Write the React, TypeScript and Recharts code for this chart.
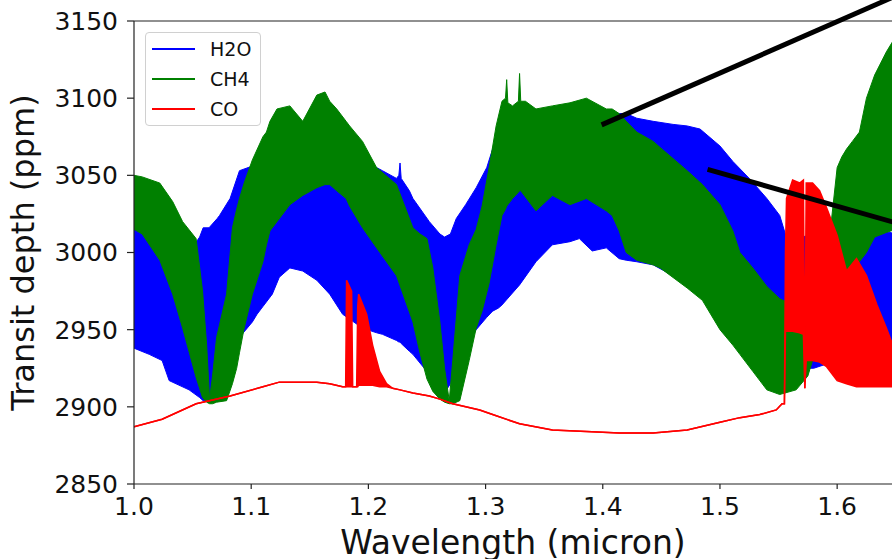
import { ComposedChart, Area, XAxis, YAxis, ReferenceLine } from 'recharts';

// H2O band: wavelength (micron), lower and upper edge of the spectrum (ppm)
const h2oWl = [
  1.0, 1.013, 1.024, 1.03, 1.047, 1.056, 1.059, 1.064, 1.071, 1.073, 1.082, 1.09, 1.101, 1.105,
  1.109, 1.11, 1.111, 1.118, 1.124, 1.133, 1.144, 1.156, 1.167, 1.178, 1.195, 1.207, 1.212,
  1.224, 1.226, 1.227, 1.228, 1.235, 1.238, 1.252, 1.261, 1.265, 1.27, 1.275, 1.283, 1.292,
  1.301, 1.306, 1.311, 1.314, 1.329, 1.343, 1.357, 1.372, 1.38, 1.391, 1.403, 1.414, 1.42,
  1.429, 1.443, 1.46, 1.472, 1.483, 1.5, 1.511, 1.525, 1.54, 1.551, 1.557, 1.57, 1.58, 1.6,
  1.62, 1.64, 1.66,
];
const h2oLow = [
  2938, 2934, 2930, 2917, 2911, 2906, 2904, 2905, 2920, 2930, 2940, 2945, 2955, 2960,
  2964, 2965, 2966, 2973, 2984, 2990, 2988, 2982, 2973, 2960, 2951, 2948, 2947,
  2943, 2942, 2942, 2941, 2936, 2934, 2921, 2912, 2909, 2915, 2930, 2940, 2950,
  2958, 2962, 2964, 2966, 2979, 2994, 3005, 3007, 3009, 3001, 3003, 2996, 2995,
  2994, 2992, 2985, 2978, 2972, 2962, 2955, 2945, 2935, 2928, 2925, 2925, 2925, 2930,
  2935, 2940, 2945,
];
const h2oHigh = [
  3022, 3018, 3012, 3005, 3000, 3010, 3016, 3016, 3022, 3024, 3035, 3053, 3056, 3060,
  3062, 3072, 3063, 3068, 3065, 3062, 3060, 3060, 3058, 3058, 3056, 3055, 3053,
  3048, 3050, 3058, 3048, 3040, 3035, 3020, 3012, 3010, 3012, 3022, 3031, 3042,
  3055, 3067, 3078, 3080, 3080, 3082, 3082, 3085, 3085, 3087, 3088, 3090, 3090,
  3087, 3085, 3083, 3082, 3080, 3069, 3059, 3048, 3035, 3024, 3009, 3010, 3012, 3015,
  3018, 3014, 3010,
];

// CH4 band
const ch4Wl = [
  1.0, 1.007, 1.022, 1.033, 1.0415, 1.053, 1.0585, 1.062, 1.0645, 1.067, 1.0705, 1.079, 1.084,
  1.0876, 1.09, 1.094, 1.101, 1.11, 1.113, 1.116, 1.122, 1.133, 1.144, 1.156, 1.163, 1.167,
  1.173, 1.181, 1.184, 1.195, 1.207, 1.224, 1.238, 1.244, 1.25, 1.255, 1.261, 1.265, 1.269,
  1.272, 1.278, 1.286, 1.292, 1.297, 1.303, 1.309, 1.314, 1.317, 1.318, 1.319, 1.323, 1.328,
  1.329, 1.33, 1.334, 1.343, 1.357, 1.372, 1.386, 1.403, 1.408, 1.414, 1.42, 1.429, 1.443,
  1.449, 1.472, 1.485, 1.5, 1.511, 1.517, 1.528, 1.54, 1.551, 1.565, 1.575, 1.585, 1.595,
  1.6, 1.604, 1.608, 1.613, 1.619, 1.625, 1.632, 1.642, 1.65, 1.66,
];
const ch4Low = [
  3015, 3012, 2995, 2973, 2951, 2919, 2906, 2903, 2902, 2902, 2903, 2904, 2915,
  2925, 2935, 2951, 2973, 2994, 3005, 3014, 3020, 3031, 3037, 3042, 3044, 3044,
  3040, 3035, 3030, 3016, 3003, 2985, 2955, 2935, 2918, 2910, 2905, 2903, 2902,
  2902, 2904, 2930, 2951, 2962, 2980, 3005, 3024, 3028, 3030, 3031, 3035, 3039,
  3040, 3040, 3036, 3027, 3037, 3031, 3035, 3027, 3024, 3014, 3000, 2995, 2992,
  2990, 2977, 2969, 2950, 2940, 2934, 2923, 2911, 2908, 2911, 2920, 2945, 2970,
  2980, 2983, 2985, 2990, 2994, 3000, 3010, 3013, 3015, 3018,
];
const ch4High = [
  3050, 3049, 3045, 3033, 3020, 3009, 2975, 2940, 2905, 2920, 2945, 2973, 3016,
  3028, 3035, 3045, 3060, 3075, 3078, 3085, 3093, 3095, 3085, 3102, 3104, 3098,
  3093, 3085, 3082, 3072, 3055, 3044, 3016, 3012, 3009, 2990, 2955, 2925, 2904,
  2930, 2985, 3005, 3015, 3030, 3055, 3082, 3098, 3100, 3112, 3097, 3095, 3098,
  3116, 3098, 3098, 3093, 3095, 3097, 3100, 3093, 3093, 3090, 3085, 3078, 3072,
  3068, 3053, 3044, 3031, 3014, 3000, 2990, 2978, 2970, 2965, 2975, 2995, 3020,
  3055, 3062, 3067, 3072, 3078, 3100, 3115, 3130, 3140, 3145,
];

// CO: continuum line plus its two absorption features
const coWl = [
  1.0, 1.024, 1.053, 1.082, 1.11, 1.124, 1.141, 1.156, 1.167, 1.178, 1.1806, 1.1814, 1.1857,
  1.1866, 1.1887, 1.19, 1.1909, 1.1917, 1.1985, 1.2036, 1.2096, 1.2155, 1.2207, 1.227, 1.238,
  1.252, 1.261, 1.272, 1.295, 1.306, 1.329, 1.357, 1.386, 1.414, 1.443, 1.472, 1.5, 1.517,
  1.534, 1.548, 1.553, 1.555, 1.5559, 1.5568, 1.562, 1.568, 1.5712, 1.5724, 1.5736, 1.579,
  1.585, 1.591, 1.6, 1.608, 1.6165, 1.625, 1.634, 1.642, 1.646, 1.66,
];
const coLow = [
  2887, 2892, 2902, 2907, 2913, 2916, 2916, 2916, 2915, 2913, 2913, 2913, 2913,
  2913, 2913, 2913, 2913, 2914, 2914, 2914, 2913, 2913, 2912, 2911, 2909,
  2907, 2905, 2902, 2898, 2895, 2889, 2885, 2884, 2883, 2883, 2885, 2890, 2893,
  2895, 2898, 2902, 2902, 2949, 2949, 2949, 2948, 2947, 2912, 2930, 2930,
  2929, 2926, 2917, 2915, 2913, 2913, 2913, 2913, 2913, 2913,
];
const coHigh = [
  2887, 2892, 2902, 2907, 2913, 2916, 2916, 2916, 2915, 2913, 2913, 2982, 2975,
  2913, 2913, 2913, 2965, 2973, 2960, 2940, 2923, 2915, 2912, 2911, 2909,
  2907, 2905, 2902, 2898, 2895, 2889, 2885, 2884, 2883, 2883, 2885, 2890, 2893,
  2895, 2898, 2902, 2902, 3000, 3035, 3047, 3045, 3047, 2912, 3045, 3045,
  3040, 3029, 3011, 2988, 2996, 2985, 2966, 2951, 2943, 2925,
];

const xTicks = [1.0, 1.1, 1.2, 1.3, 1.4, 1.5, 1.6];
const yTicks = [2850, 2900, 2950, 3000, 3050, 3100, 3150];

const species = [
  { name: 'H2O', color: '#0000ff' },
  { name: 'CH4', color: '#008000' },
  { name: 'CO', color: '#ff0000' },
];

// zoom-in pointer lines drawn over the plot: [start, end] in (micron, ppm)
const pointerLines = [
  [{ x: 1.399, y: 3082.7 }, { x: 1.6575, y: 3168.7 }],
  [{ x: 1.4894, y: 3053.9 }, { x: 1.6575, y: 3017.6 }],
];

const toRange = (wl: number[], low: number[], high: number[]) =>
  wl.map((w, i) => ({ w, range: [low[i], high[i]] }));

const h2oData = toRange(h2oWl, h2oLow, h2oHigh);
const ch4Data = toRange(ch4Wl, ch4Low, ch4High);
const coData = toRange(coWl, coLow, coHigh);

const FONT = '"DejaVu Sans", "Liberation Sans", sans-serif';
const INK = '#111';

const YLabel = (props: any) => {
  const vb = props.viewBox || { y: 21, height: 463 };
  const cy = vb.y + vb.height / 2;
  return (
    <text x={34} y={cy} transform={`rotate(-90, 34, ${cy})`} textAnchor="middle"
      fontSize={32} fill={INK} fontFamily={FONT}>
      Transit depth (ppm)
    </text>
  );
};

const XLabel = () => (
  <text x={513} y={554} textAnchor="middle" fontSize={33} fill={INK} fontFamily={FONT}>
    Wavelength (micron)
  </text>
);

const LegendBox = () => (
  <div style={{
    position: 'absolute', left: 145, top: 32, width: 116, height: 94,
    border: '1px solid #d0d0d0', borderRadius: 4, background: 'rgba(255,255,255,0.85)',
    boxSizing: 'border-box', fontFamily: FONT, fontSize: 19, color: INK,
  }}>
    {species.map((s, i) => (
      <div key={s.name} style={{ position: 'absolute', left: 0, top: 2 + i * 30, height: 28, width: '100%' }}>
        <div style={{ position: 'absolute', left: 6, top: 13, width: 43, height: 2, background: s.color }} />
        <div style={{ position: 'absolute', left: 64, top: 0, lineHeight: '28px' }}>{s.name}</div>
      </div>
    ))}
  </div>
);

export default function App() {
  return (
    <div style={{ position: 'fixed', left: 0, top: 0, width: 892, height: 559, overflow: 'hidden', background: '#fff' }}>
      <ComposedChart width={893} height={559} margin={{ top: 21, right: 1, bottom: 0, left: 0 }}>
        <XAxis
          type="number"
          dataKey="w"
          domain={[1.0, 1.6468]}
          allowDataOverflow
          ticks={xTicks}
          tickFormatter={(v: number) => v.toFixed(1)}
          height={75}
          tickSize={5}
          tickMargin={8}
          tick={{ fontSize: 25, fill: INK, fontFamily: FONT }}
          axisLine={{ stroke: '#222', strokeWidth: 1.2 }}
          tickLine={{ stroke: '#222', strokeWidth: 1.2 }}
          label={<XLabel />}
        />
        <YAxis
          type="number"
          domain={[2850, 3150]}
          allowDataOverflow
          ticks={yTicks}
          width={134}
          tickSize={7}
          tickMargin={9}
          tick={{ fontSize: 25, fill: INK, fontFamily: FONT }}
          axisLine={{ stroke: '#222', strokeWidth: 1.2 }}
          tickLine={{ stroke: '#222', strokeWidth: 1.2 }}
          label={<YLabel />}
        />
        <ReferenceLine y={3150} stroke="#222" strokeWidth={1.2} />
        <Area data={h2oData} dataKey="range" name="H2O" type="linear" stroke="#0000ff" strokeWidth={1}
          fill="#0000ff" fillOpacity={1} isAnimationActive={false} dot={false} activeDot={false} />
        <Area data={ch4Data} dataKey="range" name="CH4" type="linear" stroke="#008000" strokeWidth={1}
          fill="#008000" fillOpacity={1} isAnimationActive={false} dot={false} activeDot={false} />
        <Area data={coData} dataKey="range" name="CO" type="linear" stroke="#ff0000" strokeWidth={1.5}
          fill="#ff0000" fillOpacity={1} isAnimationActive={false} dot={false} activeDot={false} />
        {pointerLines.map((seg, i) => (
          <ReferenceLine key={i} segment={seg} stroke="#000" strokeWidth={5} ifOverflow="visible" />
        ))}
      </ComposedChart>
      <LegendBox />
    </div>
  );
}
